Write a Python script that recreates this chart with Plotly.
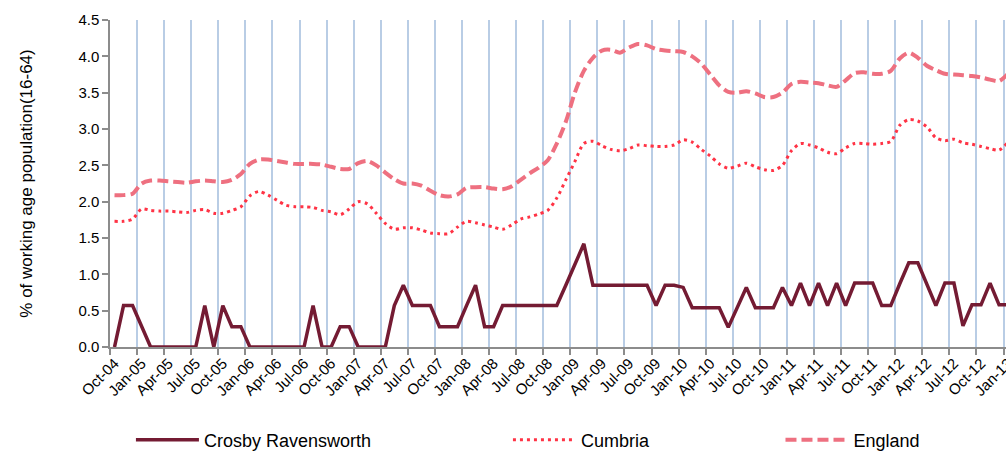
import plotly.graph_objects as go

tick_labels = ["Oct-04", "Jan-05", "Apr-05", "Jul-05", "Oct-05", "Jan-06", "Apr-06", "Jul-06",
               "Oct-06", "Jan-07", "Apr-07", "Jul-07", "Oct-07", "Jan-08", "Apr-08", "Jul-08",
               "Oct-08", "Jan-09", "Apr-09", "Jul-09", "Oct-09", "Jan-10", "Apr-10", "Jul-10",
               "Oct-10", "Jan-11", "Apr-11", "Jul-11", "Oct-11", "Jan-12", "Apr-12", "Jul-12",
               "Oct-12", "Jan-13"]

crosby = [0, 0.57, 0.57, 0.28, 0, 0, 0, 0, 0, 0,
          0.57, 0, 0.57, 0.28, 0.28, 0, 0, 0, 0, 0,
          0, 0, 0.57, 0, 0, 0.28, 0.28, 0, 0, 0,
          0, 0.57, 0.85, 0.57, 0.57, 0.57, 0.28, 0.28, 0.28, 0.57,
          0.85, 0.28, 0.28, 0.57, 0.57, 0.57, 0.57, 0.57, 0.57, 0.57,
          0.85, 1.14, 1.42, 0.85, 0.85, 0.85, 0.85, 0.85, 0.85, 0.85,
          0.57, 0.85, 0.85, 0.82, 0.54, 0.54, 0.54, 0.54, 0.27, 0.54,
          0.82, 0.54, 0.54, 0.54, 0.82, 0.57, 0.88, 0.57, 0.88, 0.57,
          0.88, 0.57, 0.88, 0.88, 0.88, 0.57, 0.57, 0.87, 1.16, 1.16,
          0.87, 0.57, 0.88, 0.88, 0.29, 0.58, 0.58, 0.88, 0.58, 0.58]

cumbria = [1.73, 1.73, 1.76, 1.90, 1.88, 1.87, 1.87, 1.86, 1.85, 1.88,
           1.89, 1.84, 1.84, 1.88, 1.93, 2.08, 2.14, 2.09, 2.02, 1.95,
           1.93, 1.93, 1.92, 1.88, 1.86, 1.82, 1.90, 2.00, 1.97, 1.84,
           1.70, 1.62, 1.64, 1.64, 1.61, 1.57, 1.56, 1.56, 1.65, 1.73,
           1.71, 1.68, 1.65, 1.62, 1.68, 1.76, 1.79, 1.83, 1.88, 2.05,
           2.30, 2.55, 2.80, 2.83, 2.77, 2.72, 2.70, 2.73, 2.78, 2.77,
           2.76, 2.76, 2.78, 2.85, 2.82, 2.72, 2.63, 2.52, 2.46, 2.49,
           2.53, 2.48, 2.44, 2.43, 2.50, 2.70, 2.80, 2.78, 2.74, 2.68,
           2.66, 2.74, 2.80, 2.80, 2.79, 2.80, 2.83, 3.05, 3.13, 3.11,
           3.03, 2.88, 2.84, 2.86, 2.81, 2.79, 2.76, 2.73, 2.71, 2.82]

england = [2.09, 2.09, 2.11, 2.25, 2.29, 2.29, 2.28, 2.27, 2.26, 2.28,
           2.29, 2.28, 2.27, 2.30, 2.38, 2.52, 2.58, 2.58, 2.56, 2.54,
           2.52, 2.52, 2.52, 2.51, 2.48, 2.45, 2.45, 2.53, 2.56, 2.50,
           2.40, 2.31, 2.25, 2.25, 2.22, 2.15, 2.09, 2.07, 2.10, 2.19,
           2.20, 2.20, 2.18, 2.17, 2.21, 2.30, 2.39, 2.47, 2.57, 2.80,
           3.10, 3.50, 3.80, 3.98, 4.08, 4.09, 4.05, 4.12, 4.17, 4.15,
           4.10, 4.08, 4.07, 4.06, 4.00, 3.90, 3.75, 3.60, 3.51, 3.50,
           3.52, 3.49, 3.44, 3.44, 3.50, 3.62, 3.65, 3.64, 3.63, 3.60,
           3.58, 3.67, 3.77, 3.78, 3.76, 3.76, 3.80, 3.97, 4.05, 3.98,
           3.87, 3.81, 3.76, 3.75, 3.74, 3.73, 3.71, 3.68, 3.66, 3.76]

x = list(range(len(crosby)))
FONT = "Arial, Liberation Sans, sans-serif"

fig = go.Figure()
fig.add_trace(go.Scatter(x=x, y=crosby, mode="lines", name="Crosby Ravensworth",
                         line=dict(color="#741B33", width=3.5), legend="legend", showlegend=True))
fig.add_trace(go.Scatter(x=x, y=cumbria, mode="lines", name="Cumbria",
                         line=dict(color="#FF3345", width=3, dash="3px,4px", shape="spline", smoothing=0.8),
                         legend="legend2", showlegend=True))
fig.add_trace(go.Scatter(x=x, y=england, mode="lines", name="England",
                         line=dict(color="#EE7080", width=4, dash="11px,5px", shape="spline", smoothing=0.8),
                         legend="legend3", showlegend=True))

leg = dict(orientation="h", yanchor="middle", y=-0.2844, xanchor="left", itemwidth=63,
           font=dict(family=FONT, size=18, color="#000"), bgcolor="rgba(0,0,0,0)")

fig.update_layout(
    width=1020, height=470,
    margin=dict(l=110, r=0, t=20, b=123),
    plot_bgcolor="white", paper_bgcolor="white",
    font=dict(family=FONT, color="#000"),
    showlegend=True,
    legend=dict(leg, x=0.023),
    legend2=dict(leg, x=0.4373),
    legend3=dict(leg, x=0.7368),
    xaxis=dict(range=[-0.5, 100.32], tickmode="array", tickvals=x[::3], ticktext=tick_labels,
               tickangle=-45, ticks="", showgrid=False, zeroline=False, automargin=False,
               showline=True, linecolor="#8C8C8C", linewidth=1.5,
               tickfont=dict(family=FONT, size=15, color="#000"),
               minor=dict(tickmode="array", tickvals=[v - 0.5 for v in x[::3]] + [x[-1] + 2.5],
                          ticks="outside", ticklen=6, tickcolor="#8C8C8C", tickwidth=1.5,
                          showgrid=True, gridcolor="#B9CDE5", gridwidth=1.5)),
    yaxis=dict(range=[0, 4.5], tickmode="linear", tick0=0, dtick=0.5, tickformat=".1f",
               ticks="outside", ticklen=6, tickcolor="#8C8C8C", tickwidth=1.5, automargin=False,
               showgrid=False, zeroline=False, showline=True, linecolor="#8C8C8C", linewidth=1.5,
               tickfont=dict(family=FONT, size=15, color="#000"),
               title=dict(text="% of working age population(16-64)", standoff=41,
                          font=dict(family=FONT, size=17, color="#000"))),
)

fig.write_html("out.html", config={"displayModeBar": False},
               post_script="document.body.style.margin='0';document.body.style.overflow='hidden';")
